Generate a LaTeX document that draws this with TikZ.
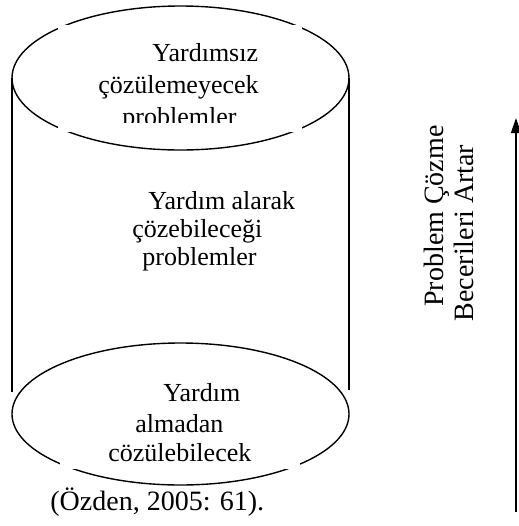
\documentclass[tikz,border=0pt]{standalone}
\usepackage{fontspec}
\setmainfont{Liberation Serif}
\usetikzlibrary{shapes.geometric}
\usetikzlibrary{arrows.meta}

\begin{document}
\begin{tikzpicture}[x=0.5pt, y=-0.5pt,
                capshape/.style={ellipse, draw, line width=0.7pt, inner sep=0pt, outer sep=0pt,
                        minimum width=168.5pt, minimum height=72pt},
                txt/.style={anchor=base west, inner sep=0pt, font=\fontsize{13}{16}\selectfont},
                sidetxt/.style={anchor=base, inner sep=0pt, rotate=90, font=\fontsize{14}{17}\selectfont}]
                \useasboundingbox (0,0) rectangle (519,526);

                % Caps of the cylinder
                \node[capshape] (topcap) at (180.5,78) {};
                \node[capshape, minimum height=71pt] (bottomcap) at (180.5,414) {};

                % Sides
                \coordinate (leftfoot) at (12,392);
                \coordinate (rightfoot) at (349,390);
                \draw[line width=0.7pt] (topcap.west) -- (leftfoot);
                \draw[line width=0.7pt] (topcap.east) -- (rightfoot);

                % Text boxes (white, they cut the caps)
                \fill[white] (58,25) rectangle (302,132);
                \fill[white] (60,366) rectangle (300,469);

                % Top: can not be solved
                \begin{scope}
                        \clip (58,25) rectangle (302,122);
                        \node[txt] (topa) at (152,61) {Yardımsız};
                        \node[txt] (topb) at (98,93) {çözülemeyecek};
                        \node[txt] (topc) at (122,125) {problemler};
                \end{scope}

                % Middle: with help
                \node[txt] (mida) at (148,209) {Yardım alarak};
                \node[txt] (midb) at (132,237) {çözebileceği};
                \node[txt] (midc) at (142,265) {problemler};

                % Bottom: without help
                \node[txt] (lowa) at (163,401) {Yardım};
                \node[txt] (lowb) at (135,432) {almadan};
                \node[txt] (lowc) at (108,461) {cözülebilecek};

                % Source
                \node[anchor=base west, inner sep=0pt, font=\fontsize{14}{17}\selectfont] (source) at (50,510) {(Özden, 2005: 61).};

                % Side label and arrow
                \node[sidetxt] (sidea) at (443,216) {Problem Çözme};
                \node[sidetxt] (sideb) at (473,233) {Becerileri Artar};
                \coordinate (arrowfoot) at (516,512);
                \coordinate (arrowtip) at (516,118);
                \draw[-{Triangle[length=7.5pt, width=5pt]}, line width=0.6pt] (arrowfoot) -- (arrowtip);
\end{tikzpicture}
\end{document}
